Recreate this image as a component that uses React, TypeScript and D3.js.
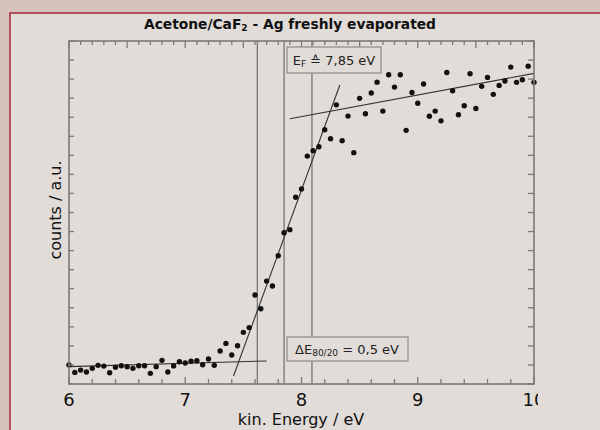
import * as d3 from "d3";

// kinetic energy (eV) and counts (a.u.)
const energy = [
  6.0, 6.05, 6.1, 6.15, 6.2, 6.25, 6.3, 6.35, 6.4, 6.45, 6.5, 6.55, 6.6, 6.65, 6.7, 6.75, 6.8, 6.85, 6.9, 6.95,
  7.0, 7.05, 7.1, 7.15, 7.2, 7.25, 7.3, 7.35, 7.4, 7.45, 7.5, 7.55, 7.6, 7.65, 7.7, 7.75, 7.8, 7.85, 7.9, 7.95,
  8.0, 8.05, 8.1, 8.15, 8.2, 8.25, 8.3, 8.35, 8.4, 8.45, 8.5, 8.55, 8.6, 8.65, 8.7, 8.75, 8.8, 8.85, 8.9, 8.95,
  9.0, 9.05, 9.1, 9.15, 9.2, 9.25, 9.3, 9.35, 9.4, 9.45, 9.5, 9.55, 9.6, 9.65, 9.7, 9.75, 9.8, 9.85, 9.9, 9.95,
  10.0,
];
const counts = [
  1.0, 0.61, 0.73, 0.63, 0.82, 0.98, 0.94, 0.59, 0.88, 0.96, 0.91, 0.82, 0.96, 0.96, 0.56, 0.91, 1.24, 0.63, 0.95, 1.17,
  1.1, 1.19, 1.22, 1.01, 1.31, 0.98, 1.73, 2.13, 1.52, 2.01, 2.71, 2.96, 4.67, 3.95, 5.4, 5.14, 6.73, 7.94, 8.1, 9.8,
  10.23, 11.96, 12.24, 12.45, 13.34, 12.87, 14.65, 12.77, 14.06, 12.14, 14.99, 14.18, 15.27, 15.84, 14.32, 16.23, 15.58, 16.23, 13.31, 15.3,
  14.73, 15.74, 14.05, 14.32, 13.81, 16.35, 15.39, 14.13, 14.6, 16.28, 14.46, 15.62, 16.09, 15.2, 15.67, 15.9, 16.63, 15.83, 15.97, 16.68,
  15.83,
];

// fitted straight lines [energy, counts]
const baseFit: [number, number][] = [[6.0, 0.91], [7.7, 1.21]];
const edgeFit: [number, number][] = [[7.415, 0.42], [8.33, 15.69]];
const plateauFit: [number, number][] = [[7.9, 13.92], [10.0, 16.3]];

// 20 %, Fermi edge, 80 % markers
const markers = [7.62, 7.85, 8.09];

const xLabels = [6, 7, 8, 9, 10];

const FONT = "'DejaVu Sans', sans-serif";

export default function App() {
  const W = 600;
  const H = 430;
  const x = d3.scaleLinear().domain([6, 10]).range([69, 534]);
  const y = d3.scaleLinear().domain([0, 18]).range([384, 41]);
  const line = d3
    .line<[number, number]>()
    .x((d) => x(d[0]))
    .y((d) => y(d[1]));

  const bottomMinor = d3.range(6, 10.001, 0.2);
  const topTicks = d3.range(6, 10.001, 0.1);
  const yTicks = d3.range(0, 18.001, 1);

  return (
    <svg
      width={W}
      height={H}
      style={{ position: "absolute", left: 0, top: 0, display: "block" }}
    >
      <defs>
        <clipPath id="cut">
          <rect x={0} y={0} width={538} height={H} />
        </clipPath>
      </defs>
      <rect width={W} height={H} fill="#d8c3bc" />
      <rect x={10} y={13} width={W} height={H} fill="#e1dcd8" stroke="#a3283c" strokeWidth={1.5} />

      <text x={290} y={29} textAnchor="middle" fontFamily={FONT} fontWeight="bold" fontSize={13.8} fill="#111">
        Acetone/CaF<tspan fontSize={9} dy={2}>2</tspan>
        <tspan dy={-2}> - Ag freshly evaporated</tspan>
      </text>

      {markers.map((m) => (
        <line key={m} x1={x(m)} x2={x(m)} y1={y(18)} y2={y(0)} stroke="#6e6e6e" strokeWidth={1.2} />
      ))}

      {[baseFit, edgeFit, plateauFit].map((l, i) => (
        <path key={i} d={line(l) ?? ""} fill="none" stroke="#333" strokeWidth={1.1} />
      ))}

      {energy.map((e, i) => (
        <circle key={e} cx={x(e)} cy={y(counts[i])} r={2.7} fill="#111" />
      ))}

      {/* frame and ticks */}
      <g stroke="#7a7a7a" strokeWidth={1.3}>
        {bottomMinor.map((t) => {
          const major = Math.abs(t - Math.round(t)) < 1e-6;
          return <line key={`b${t}`} x1={x(t)} x2={x(t)} y1={y(0)} y2={y(0) - (major ? 7 : 5)} />;
        })}
        {topTicks.map((t) => {
          const major = Math.abs(t * 2 - Math.round(t * 2)) < 1e-6;
          return <line key={`t${t}`} x1={x(t)} x2={x(t)} y1={y(18)} y2={y(18) + (major ? 7 : 4)} />;
        })}
        {yTicks.map((t) => (
          <g key={`y${t}`}>
            <line x1={x(6)} x2={x(6) + 5} y1={y(t)} y2={y(t)} />
            <line x1={x(10)} x2={x(10) - 6} y1={y(t)} y2={y(t)} />
          </g>
        ))}
        <rect x={x(6)} y={y(18)} width={x(10) - x(6)} height={y(0) - y(18)} fill="none" strokeWidth={1.6} />
      </g>

      {/* annotation boxes */}
      <rect x={287} y={47} width={94} height={26} fill="#e1dcd8" stroke="#8a8a8a" strokeWidth={1.2} />
      <text x={334} y={65} textAnchor="middle" fontFamily={FONT} fontSize={13} fill="#222">
        E<tspan fontSize={9} dy={2}>F</tspan>
        <tspan dy={-2}> ≙ 7,85 eV</tspan>
      </text>
      <rect x={287} y={337} width={121} height={24} fill="#e1dcd8" stroke="#8a8a8a" strokeWidth={1.2} />
      <text x={347} y={354} textAnchor="middle" fontFamily={FONT} fontSize={13} fill="#222">
        ΔE<tspan fontSize={9} dy={2}>80/20</tspan>
        <tspan dy={-2}> = 0,5 eV</tspan>
      </text>

      <g clipPath="url(#cut)">
        {xLabels.map((t) => (
          <text key={t} x={x(t)} y={406} textAnchor="middle" fontFamily={FONT} fontSize={18} fill="#111">
            {t}
          </text>
        ))}
      </g>
      <text x={301} y={425} textAnchor="middle" fontFamily={FONT} fontSize={16} fill="#111">
        kin. Energy / eV
      </text>
      <text
        transform="translate(61,210) rotate(-90)"
        textAnchor="middle"
        fontFamily={FONT}
        fontSize={16}
        fill="#111"
      >
        counts / a.u.
      </text>
    </svg>
  );
}
